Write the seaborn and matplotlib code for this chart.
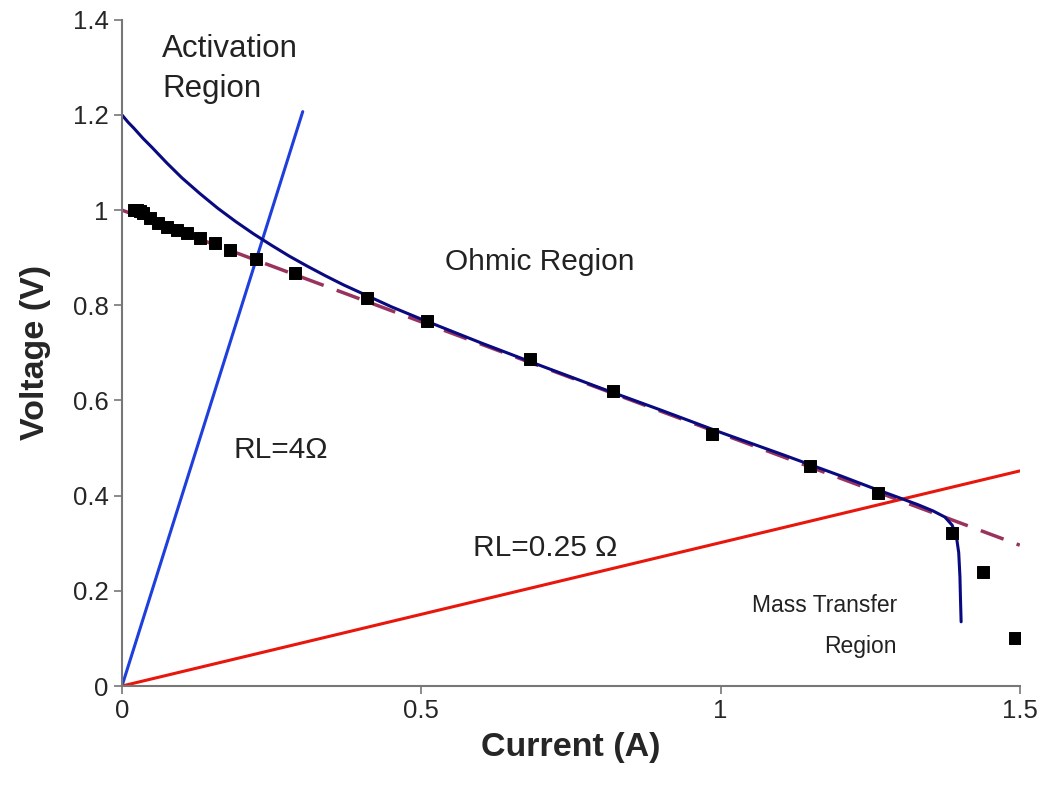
import matplotlib
matplotlib.use("Agg")
import matplotlib.pyplot as plt
import numpy as np
import seaborn as sns

sns.set_theme(style="white")
plt.rcParams["font.family"] = ["Liberation Sans", "DejaVu Sans"]

# measured polarisation points (current A, voltage V)
meas_current = [0.02, 0.025, 0.03, 0.035, 0.047, 0.06, 0.075, 0.092, 0.108, 0.13,
                0.155, 0.18, 0.224, 0.289, 0.409, 0.509, 0.681, 0.82, 0.985,
                1.149, 1.263, 1.386, 1.438, 1.492]
meas_voltage = [1.0, 1.0, 0.998, 0.995, 0.984, 0.973, 0.965, 0.958, 0.952, 0.942,
                0.931, 0.917, 0.898, 0.868, 0.816, 0.767, 0.687, 0.620, 0.530,
                0.462, 0.406, 0.322, 0.240, 0.101]

# model curve
model_current = [0.0, 0.01, 0.02, 0.035, 0.05, 0.075, 0.1, 0.13, 0.16, 0.19, 0.22,
                 0.25, 0.28, 0.31, 0.34, 0.37, 0.41, 0.45, 0.5, 0.6, 0.7, 0.8,
                 0.9, 1.0, 1.1, 1.2, 1.25, 1.3, 1.33, 1.355, 1.375, 1.387, 1.394,
                 1.398, 1.4, 1.401, 1.402]
model_voltage = [1.2, 1.185, 1.172, 1.151, 1.132, 1.099, 1.068, 1.035, 1.004, 0.976,
                 0.950, 0.926, 0.903, 0.882, 0.862, 0.843, 0.820, 0.797, 0.771,
                 0.721, 0.673, 0.626, 0.580, 0.533, 0.488, 0.442, 0.418, 0.395,
                 0.381, 0.368, 0.355, 0.338, 0.315, 0.28, 0.23, 0.18, 0.135]

# linear fit (dashed)
fit_current = [0.0, 1.5]
fit_voltage = [1.0, 0.296]

# load lines
rl4_current = [0.0, 0.302]
rl4_voltage = [0.0, 1.207]
rl025_current = [0.0, 1.5]
rl025_voltage = [0.0, 0.452]

fig = plt.figure(figsize=(10.47, 7.91), dpi=100)
ax = fig.add_axes([0.1165, 0.1327, 0.8575, 0.8423])

sns.lineplot(x=rl4_current, y=rl4_voltage, ax=ax, color="#1f3fdc", lw=2.2)
sns.lineplot(x=rl025_current, y=rl025_voltage, ax=ax, color="#e8160c", lw=2.2)
sns.lineplot(x=fit_current, y=fit_voltage, ax=ax, color="#99335e", lw=2.5,
             linestyle=(0, (7, 4)))
sns.lineplot(x=model_current, y=model_voltage, ax=ax, color="#0a0a80", lw=2.2,
             sort=False)
sns.scatterplot(x=meas_current, y=meas_voltage, ax=ax, marker="s", s=75,
                color="black", edgecolor="black", zorder=5)

ax.set_xlim(0, 1.5)
ax.set_ylim(0, 1.4)
ax.set_xticks([0, 0.5, 1, 1.5])
ax.set_xticklabels(["0", "0.5", "1", "1.5"])
ax.set_yticks(np.arange(0, 1.41, 0.2))
ax.set_yticklabels(["0", "0.2", "0.4", "0.6", "0.8", "1", "1.2", "1.4"])
ax.tick_params(axis="both", labelsize=18.5, length=6, width=1.2, color="#777777",
               direction="out", left=True, bottom=True)
for side in ["top", "right"]:
    ax.spines[side].set_visible(False)
for side in ["left", "bottom"]:
    ax.spines[side].set_color("#777777")
    ax.spines[side].set_linewidth(1.5)

ax.set_xlabel("Current (A)", fontsize=24.5, fontweight="bold", labelpad=6)
ax.set_ylabel("Voltage (V)", fontsize=24.5, fontweight="bold", labelpad=16)

txt = dict(color="#222222", va="center")
ax.text(0.067, 1.297, "Activation\nRegion", ha="left", fontsize=22.5,
        linespacing=1.45, **txt)
ax.text(0.698, 0.891, "Ohmic Region", ha="center", fontsize=21.5, **txt)
ax.text(0.266, 0.496, "RL=4Ω", ha="center", fontsize=21.5, **txt)
ax.text(0.707, 0.29, "RL=0.25 Ω", ha="center", fontsize=21.5, **txt)
ax.text(1.295, 0.127, "Mass Transfer\nRegion", ha="right", multialignment="right",
        fontsize=16.5, linespacing=2.0, **txt)

fig.savefig("out.png", dpi=100)
